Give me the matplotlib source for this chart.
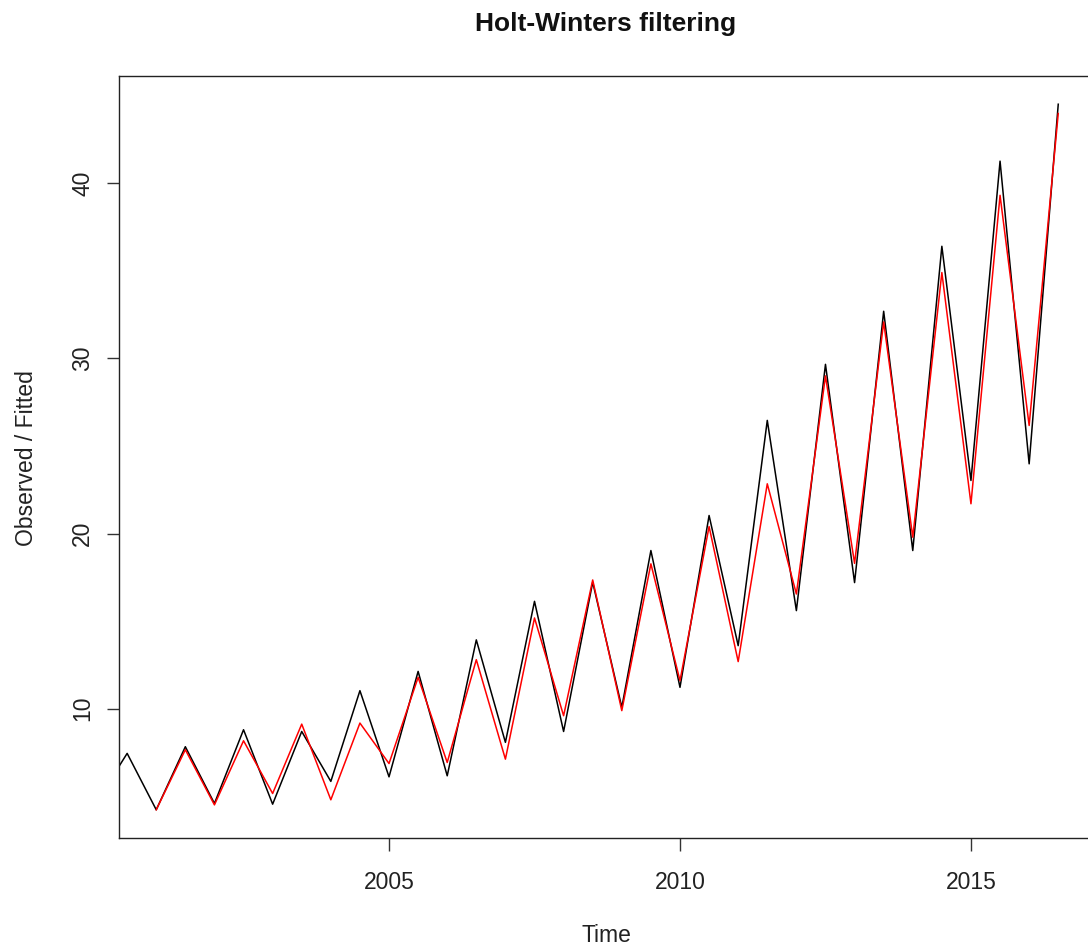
import numpy as np
import matplotlib
matplotlib.use("Agg")
import matplotlib.pyplot as plt

plt.rcParams['font.family'] = ['Liberation Sans', 'DejaVu Sans']

# Semi-annual series (frequency 2), observed values starting 2000.0
obs_start = 2000.0
observed = [4.8, 7.45, 4.23, 7.83, 4.59, 8.8, 4.55, 8.7, 5.85, 11.03,
            6.11, 12.13, 6.17, 13.93, 8.08, 16.13, 8.70, 17.22, 10.08, 19.03,
            11.22, 21.03, 13.6, 26.46, 15.6, 29.66, 17.2, 32.69, 19.03, 36.4,
            23.03, 41.26, 23.98, 44.51]

# Holt-Winters fitted values begin one season later
fit_start = 2001.0
fitted = [4.23, 7.66, 4.51, 8.17, 5.16, 9.12, 4.8, 9.18, 6.87, 11.79,
          6.93, 12.8, 7.12, 15.18, 9.6, 17.35, 9.89, 18.27, 11.6, 20.4,
          12.69, 22.84, 16.55, 29.0, 18.3, 32.08, 19.79, 34.9, 21.7, 39.31,
          26.17, 43.98]

x_ticks = [2005, 2010, 2015]
y_ticks = [10, 20, 30, 40]

freq = 2
t_obs = obs_start + np.arange(len(observed)) / freq
t_fit = fit_start + np.arange(len(fitted)) / freq

W, H = 1088, 947
fig = plt.figure(figsize=(W / 100, H / 100), dpi=100)
left, right, top, bottom = 119, 1092, 76, 838
ax = fig.add_axes([left / W, (H - bottom) / H, (right - left) / W, (bottom - top) / H])

ax.plot(t_obs, observed, color='black', lw=1.1)
ax.plot(t_fit, fitted, color='red', lw=1.1)

ax.set_xlim(2000.36, 2017.08)
lo, hi = min(observed), max(observed)
pad = 0.04 * (hi - lo)
ax.set_ylim(lo - pad, hi + pad)

ax.set_xticks(x_ticks)
ax.set_yticks(y_ticks)
ax.tick_params(axis='both', direction='out', length=9, width=1.0,
               color='#333333', labelsize=16.5, labelcolor='#222222')
ax.tick_params(axis='x', pad=15)
ax.tick_params(axis='y', pad=9)
for lab in ax.get_yticklabels():
    lab.set_rotation(90)
    lab.set_va('center')

for s in ax.spines.values():
    s.set_linewidth(1.0)
    s.set_color('#222222')

fig.text(606 / W, 1 - 24 / H, 'Holt-Winters filtering', ha='center', va='center',
         fontsize=19, fontweight='bold', color='#111111')
fig.text(606 / W, 1 - 935 / H, 'Time', ha='center', va='center',
         fontsize=16.5, color='#222222')
fig.text(27 / W, 1 - 458 / H, 'Observed / Fitted', ha='center', va='center',
         rotation=90, fontsize=16.5, color='#222222')

fig.savefig('out.png', dpi=100)
